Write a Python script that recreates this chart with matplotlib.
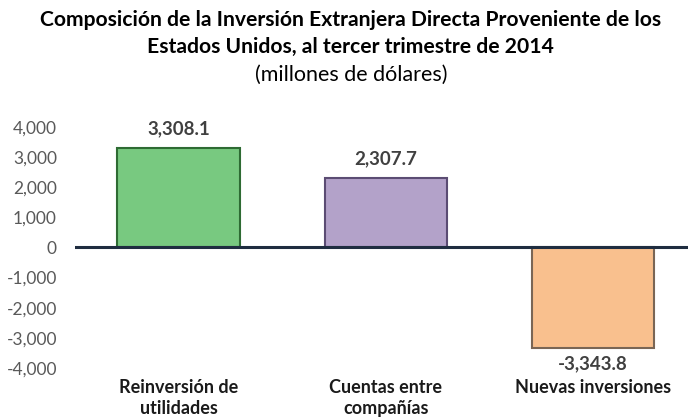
import matplotlib.pyplot as plt

plt.rcParams['font.family'] = ['Lato', 'DejaVu Sans']

categories = ['Reinversión de\nutilidades', 'Cuentas entre\ncompañías', 'Nuevas inversiones']
values = [3308.1, 2307.7, -3343.8]
labels = ['3,308.1', '2,307.7', '-3,343.8']
colors = ['#78C980', '#B3A2C9', '#F9C08E']
edges = ['#2E6B33', '#5B4C73', '#7A6655']
yticks = [4000, 3000, 2000, 1000, 0, -1000, -2000, -3000, -4000]

fig = plt.figure(figsize=(6.88, 4.2), dpi=100)
ax = fig.add_axes([0.109, 0.124, 0.891, 0.574])

x = range(len(values))
ax.bar(x, values, width=0.59, color=colors, edgecolor=edges, linewidth=1.5, zorder=2)
ax.axhline(0, color='#1F2D40', linewidth=2.2, zorder=3)

for i, (v, t) in enumerate(zip(values, labels)):
    off = 350 if v > 0 else -230
    ax.text(i, v + off, t, ha='center', va='bottom' if v > 0 else 'top',
            fontsize=13.5, fontweight='bold', color='#404040')

ax.set_xlim(-0.5, 2.46)
ax.set_ylim(-4000, 4000)
ax.set_yticks(yticks)
ax.set_yticklabels([f'{t:,}' for t in yticks], fontsize=12.5, color='#595959')
ax.tick_params(axis='y', length=0, pad=13)
ax.set_xticks([])
for s in ax.spines.values():
    s.set_visible(False)

for i, c in enumerate(categories):
    ax.text(i, -4380, c, ha='center', va='top', fontsize=13, fontweight='bold',
            color='#1a1a1a', linespacing=1.25)

fig.text(0.51, 0.975, 'Composición de la Inversión Extranjera Directa Proveniente de los\nEstados Unidos, al tercer trimestre de 2014',
         ha='center', va='top', fontsize=15.2, fontweight='bold', linespacing=1.4)
fig.text(0.51, 0.845, '(millones de dólares)', ha='center', va='top', fontsize=15.5)

fig.savefig('out.png', dpi=100)
